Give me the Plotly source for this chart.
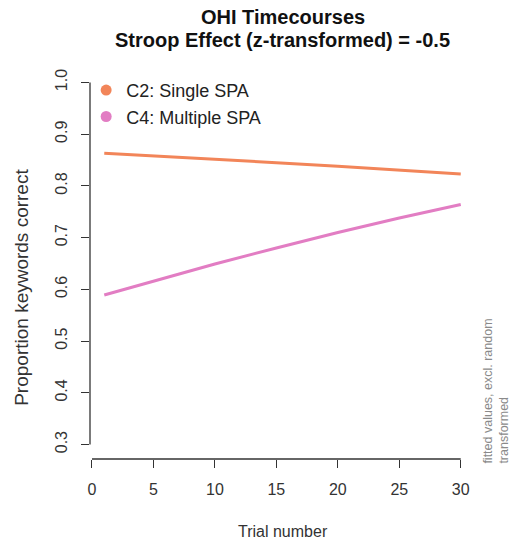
import plotly.graph_objects as go

# Fitted proportion of keywords correct per trial
trials = [1, 5, 10, 15, 20, 25, 30]
single_spa = [0.863, 0.858, 0.852, 0.845, 0.838, 0.830, 0.823]
multiple_spa = [0.589, 0.616, 0.649, 0.680, 0.710, 0.738, 0.764]

series_names = ["C2: Single SPA", "C4: Multiple SPA"]
series_colors = ["#F28559", "#E27DC3"]

x_ticks = [0, 5, 10, 15, 20, 25, 30]
y_ticks = [0.3, 0.4, 0.5, 0.6, 0.7, 0.8, 0.9, 1.0]

title_lines = ["OHI Timecourses", "Stroop Effect (z-transformed) = -0.5"]

FONT = "Liberation Sans, Arial, sans-serif"
INK = "#333333"

fig = go.Figure()

for name, vals, col in zip(series_names, [single_spa, multiple_spa], series_colors):
    fig.add_trace(go.Scatter(
        x=trials, y=vals, mode="lines", name=name,
        line=dict(color=col, width=3), showlegend=False,
    ))
    # legend entry drawn as a filled dot
    fig.add_trace(go.Scatter(
        x=[None], y=[None], mode="markers", name=name,
        marker=dict(color=col, size=11), showlegend=True,
    ))

# R-style axis lines spanning only the tick range
fig.add_shape(type="line", xref="x", yref="paper", x0=x_ticks[0], x1=x_ticks[-1],
              y0=0, y1=0, line=dict(color=INK, width=1.3))
fig.add_shape(type="line", xref="paper", yref="y", x0=0, x1=0,
              y0=y_ticks[0], y1=y_ticks[-1], line=dict(color=INK, width=1.3))

# two-line bold title, centred over the plotting region
for i, line in enumerate(title_lines):
    fig.add_annotation(
        text=f"<b>{line}</b>", xref="paper", yref="paper",
        x=0.5, xanchor="center", y=1 + (51 - 23 * i) / 391, yanchor="middle",
        showarrow=False, font=dict(family=FONT, size=20, color="#111111"),
    )

# axis titles
fig.add_annotation(
    text="Trial number", xref="paper", yref="paper",
    x=0.5, xanchor="center", y=-72 / 391, yanchor="middle",
    showarrow=False, font=dict(family=FONT, size=16, color=INK),
)
fig.add_annotation(
    text="Proportion keywords correct", textangle=-90,
    xref="paper", yref="paper", x=-0.177, xanchor="center", y=0.44, yanchor="middle",
    showarrow=False, font=dict(family=FONT, size=19, color=INK),
)
fig.add_annotation(
    text="fitted values, excl. random<br>transformed", textangle=-90, align="left",
    xref="paper", yref="paper", x=1.008, xanchor="left", y=-0.018, yanchor="bottom",
    showarrow=False, font=dict(family=FONT, size=12.5, color="#8a8a8a"),
)

fig.update_layout(
    width=511, height=544,
    margin=dict(l=90, r=36, t=68, b=85),
    paper_bgcolor="white", plot_bgcolor="white",
    font=dict(family=FONT, color=INK),
    legend=dict(
        x=-0.01, xanchor="left", y=0.99, yanchor="top",
        bgcolor="rgba(0,0,0,0)", font=dict(family=FONT, size=18, color="#222222"),
        itemsizing="trace", tracegroupgap=0,
    ),
    xaxis=dict(
        range=[-0.16, 31.16], tickvals=x_ticks, ticks="outside", ticklen=8,
        tickcolor=INK, tickwidth=1.3, showline=False, showgrid=False, zeroline=False,
        ticklabelstandoff=8, automargin=False,
        tickfont=dict(family=FONT, size=16, color=INK),
    ),
    yaxis=dict(
        range=[0.272, 1.028], tickvals=y_ticks, tickformat=".1f", ticks="outside", ticklen=8,
        tickcolor=INK, tickwidth=1.3, showline=False, showgrid=False, zeroline=False,
        ticklabelstandoff=8, automargin=False,
        tickangle=-90, tickfont=dict(family=FONT, size=16, color=INK),
    ),
)

fig.write_html("out.html")
